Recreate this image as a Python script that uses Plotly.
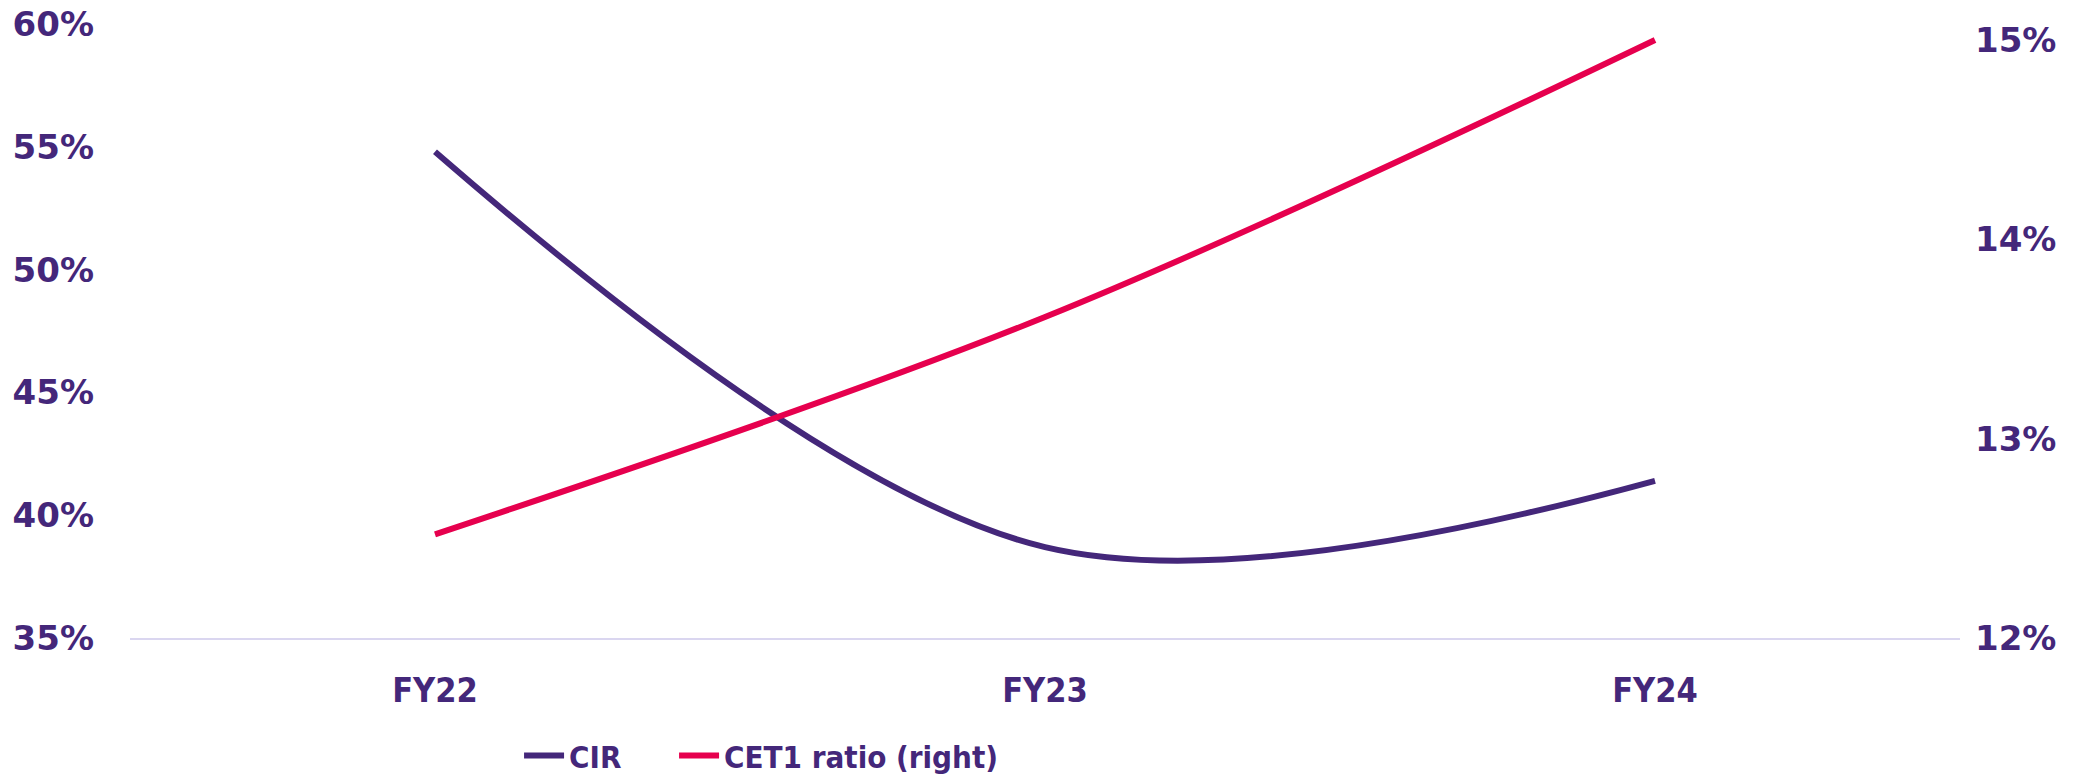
import plotly.graph_objects as go

categories = ["FY22", "FY23", "FY24"]
cir = [54.8, 38.7, 41.4]
cet1 = [12.52, 13.61, 15.0]
left_ticks = [35, 40, 45, 50, 55, 60]
right_ticks = [12, 13, 14, 15]

PURPLE = "#44277A"
RED = "#E6004E"
GRID = "#DAD6F0"
NARROW = "Liberation Sans Narrow, Arial Narrow, DejaVu Sans Condensed, sans-serif"
WIDE = "DejaVu Sans, Verdana, sans-serif"

fig = go.Figure()
fig.add_trace(go.Scatter(
    x=categories, y=cir, name="CIR", mode="lines",
    line=dict(color=PURPLE, width=6, shape="spline", smoothing=1.0),
    yaxis="y", legend="legend"))
fig.add_trace(go.Scatter(
    x=categories, y=cet1, name="CET1 ratio (right)", mode="lines",
    line=dict(color=RED, width=6, shape="spline", smoothing=1.0),
    yaxis="y2", legend="legend2"))

legend_common = dict(orientation="h", xanchor="left", y=-0.192, yanchor="middle",
                     font=dict(family=NARROW, size=31, color=PURPLE, weight="bold"),
                     itemwidth=40, bgcolor="rgba(0,0,0,0)")

fig.update_layout(
    width=2096, height=778,
    margin=dict(l=130, r=136, t=24, b=140, autoexpand=False),
    paper_bgcolor="white", plot_bgcolor="white",
    showlegend=True,
    legend=dict(x=0.2126, **legend_common),
    legend2=dict(x=0.2973, **legend_common),
    xaxis=dict(type="category", range=[-0.5, 2.5], showgrid=False, zeroline=False,
               showline=True, linecolor=GRID, linewidth=2, ticks="", automargin=False,
               tickfont=dict(family=NARROW, size=34, color=PURPLE, weight="bold"),
               ticklabelstandoff=21),
    yaxis=dict(range=[35, 60], tickvals=left_ticks,
               ticktext=[f"{v}%" for v in left_ticks],
               showgrid=False, zeroline=False, showline=False, ticks="", automargin=False,
               ticklabeloverflow="allow",
               tickfont=dict(family=WIDE, size=34, color=PURPLE, weight="bold"),
               ticklabelstandoff=35),
    yaxis2=dict(range=[12, 15.08], tickvals=right_ticks,
                ticktext=[f"{v}%" for v in right_ticks],
                overlaying="y", side="right", automargin=False,
                ticklabeloverflow="allow",
                showgrid=False, zeroline=False, showline=False, ticks="",
                tickfont=dict(family=WIDE, size=34, color=PURPLE, weight="bold"),
                ticklabelstandoff=14),
)

fig.write_html("out.html", config={"displayModeBar": False},
               post_script="document.body.style.margin='0px';")
